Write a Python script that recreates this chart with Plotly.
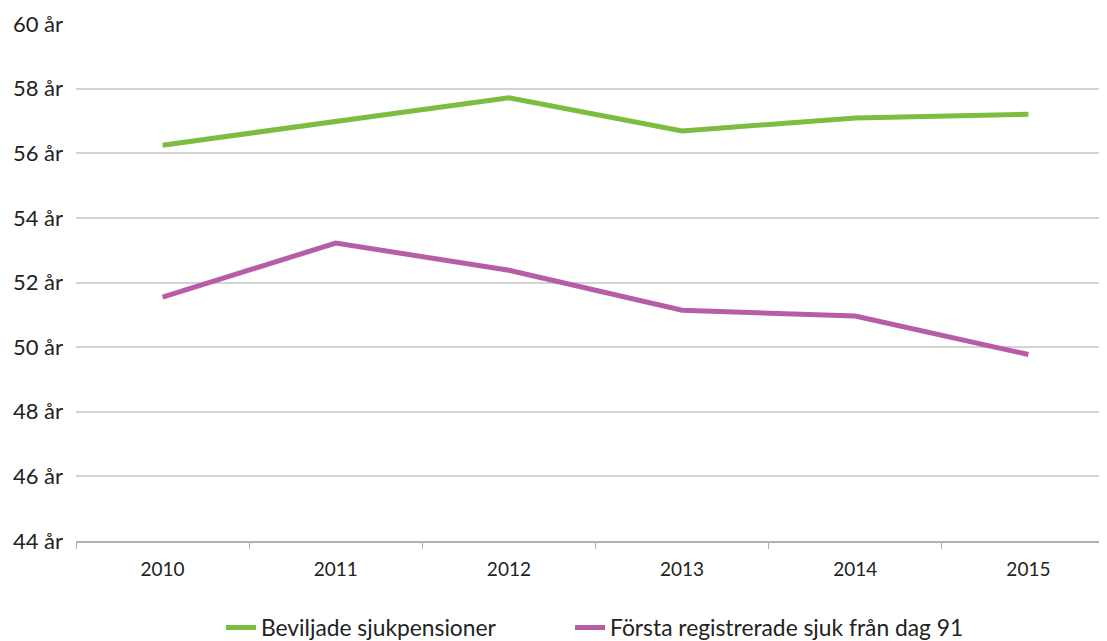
import plotly.graph_objects as go

years = ["2010", "2011", "2012", "2013", "2014", "2015"]
beviljade = [56.25, 57.0, 57.72, 56.69, 57.09, 57.21]
forsta = [51.55, 53.22, 52.38, 51.14, 50.96, 49.77]
y_ticks = [44, 46, 48, 50, 52, 54, 56, 58, 60]
y_ticktext = [f"{v} år" for v in y_ticks]

FONT = "Lato, 'Open Sans', sans-serif"

fig = go.Figure()
fig.add_trace(go.Scatter(x=years, y=beviljade, mode="lines", name="Beviljade sjukpensioner",
                         line=dict(color="#7bbd3f", width=5), legend="legend"))
fig.add_trace(go.Scatter(x=years, y=forsta, mode="lines", name="Första registrerade sjuk från dag 91",
                         line=dict(color="#b65da6", width=5), legend="legend2"))

leg_common = dict(orientation="h", y=-0.126, yanchor="top", xanchor="left",
                  font=dict(size=22.8), itemwidth=30, bgcolor="rgba(0,0,0,0)")

fig.update_layout(
    width=1107, height=641,
    margin=dict(l=68, r=0, t=16, b=108, autoexpand=False),
    paper_bgcolor="white", plot_bgcolor="white",
    font=dict(family=FONT, size=20, color="#222222"),
    showlegend=True,
    legend=dict(x=0.1395, **leg_common),
    legend2=dict(x=0.4755, **leg_common),
    xaxis=dict(type="category", range=[-0.5, 5.5], tickson="boundaries",
               ticks="outside", ticklen=6, tickcolor="#b0b0b0", tickwidth=1,
               showline=True, linecolor="#b0b0b0", linewidth=2, automargin=False,
               showgrid=False, tickfont=dict(size=19), ticklabelstandoff=10),
    yaxis=dict(range=[44, 60], tickvals=y_ticks, ticktext=y_ticktext, automargin=False,
               showgrid=True, gridcolor="#d3d3d3", gridwidth=1.5,
               zeroline=False, showline=False, ticks="",
               ticklabelstandoff=12, tickfont=dict(size=22)),
)
fig.write_html("out.html")
